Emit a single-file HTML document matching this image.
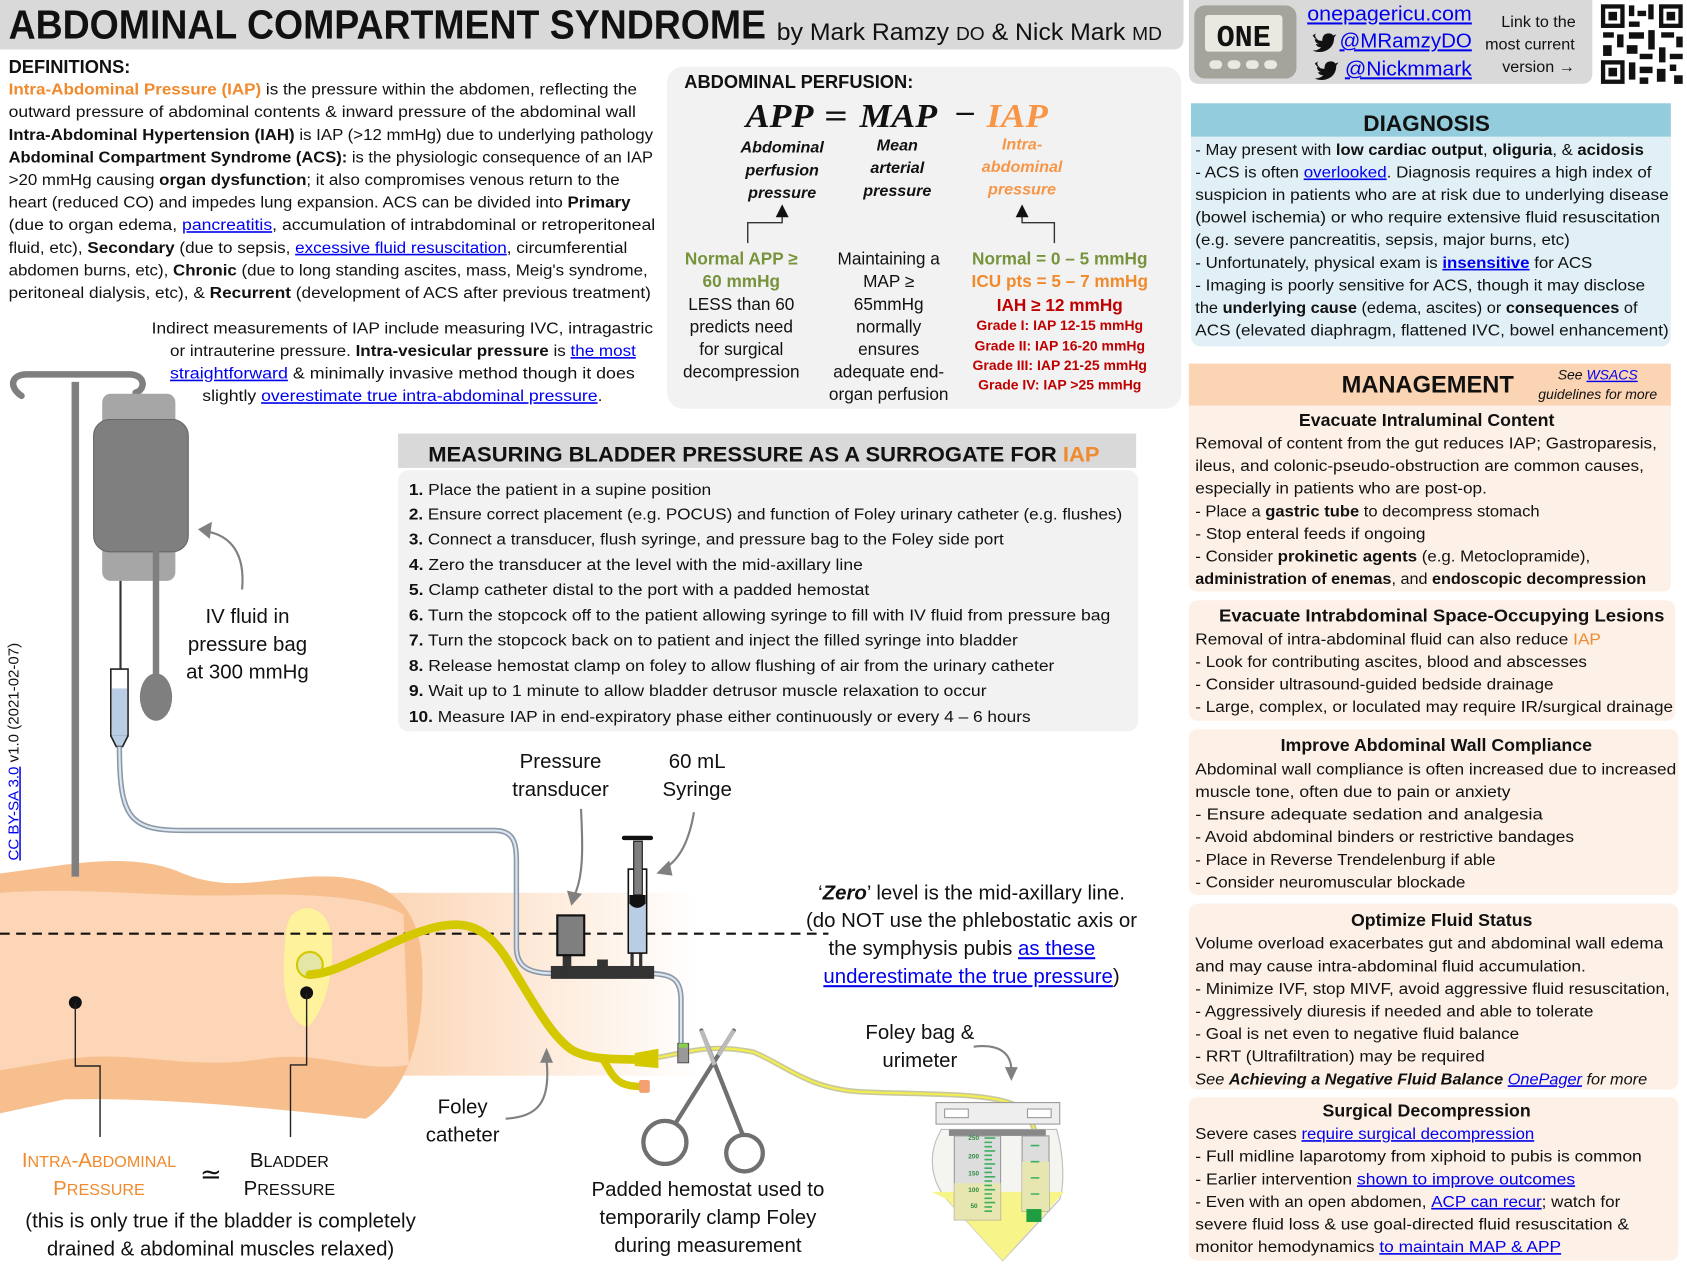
<!DOCTYPE html>
<html><head><meta charset="utf-8"><style>
html,body{margin:0;padding:0;background:#fff;}
svg{display:block}
text{font-family:"Liberation Sans",sans-serif;font-size:15px;fill:#111}
.b{font-weight:bold}
.i{font-style:italic}
.l{fill:#0000ee;text-decoration:underline}
.o{fill:#f08a2c}
.g{fill:#77933c}
.r{fill:#c00000}
.c{text-anchor:middle}
.lg{font-size:19px}
.sv{font-family:"Liberation Serif",serif;font-weight:bold;font-style:italic;font-size:31px}
</style></head><body>
<svg width="1687" height="1265" viewBox="0 0 1568 1176" preserveAspectRatio="none" xmlns="http://www.w3.org/2000/svg">
<!-- header -->
<path d="M0,0 H1100 V36 Q1100,46 1090,46 H0 Z" fill="#d9d9d9"/>
<text x="8" y="36" class="b" style="font-size:38px" textLength="704" lengthAdjust="spacingAndGlyphs">ABDOMINAL COMPARTMENT SYNDROME</text>
<text x="722" y="37" style="font-size:22px" textLength="358" lengthAdjust="spacingAndGlyphs">by Mark Ramzy <tspan style="font-size:17px">DO</tspan> &amp; Nick Mark <tspan style="font-size:17px">MD</tspan></text>
<path d="M1105,0 H1480 V68 Q1480,78 1470,78 H1115 Q1105,78 1105,68 Z" fill="#d9d9d9"/>
<rect x="1110" y="5" width="95" height="68" rx="10" fill="#a5a49c"/>
<rect x="1120" y="14" width="72" height="34" rx="3" fill="#e9e9e2"/>
<text x="1156" y="43" class="c" style="font-family:'Liberation Mono',monospace;font-size:28px;font-weight:bold">ONE</text>
<rect x="1124" y="56" width="12" height="8" rx="4" fill="#e9e9e2"/><rect x="1141" y="56" width="12" height="8" rx="4" fill="#e9e9e2"/><rect x="1158" y="56" width="12" height="8" rx="4" fill="#e9e9e2"/><rect x="1175" y="56" width="12" height="8" rx="4" fill="#e9e9e2"/>
<text x="1215" y="19" class="l" style="font-size:19px" textLength="153" lengthAdjust="spacingAndGlyphs">onepagericu.com</text>
<path d="M1220,33 q3,5 9,5 q0,-7 6,-7 q3,0 4,2 l3,-1 l-2,3 q0,10 -10,13 q-6,1 -10,-1 q5,0 8,-3 q-4,0 -5,-3 q2,0 3,0 q-4,-1 -4,-5 q1,1 3,1 q-4,-3 -2,-6 z" fill="#111"/>
<text x="1245" y="44" class="l" style="font-size:19px" textLength="123" lengthAdjust="spacingAndGlyphs">@MRamzyDO</text>
<path d="M1222,59 q3,5 9,5 q0,-7 6,-7 q3,0 4,2 l3,-1 l-2,3 q0,10 -10,13 q-6,1 -10,-1 q5,0 8,-3 q-4,0 -5,-3 q2,0 3,0 q-4,-1 -4,-5 q1,1 3,1 q-4,-3 -2,-6 z" fill="#111"/>
<text x="1250" y="70" class="l" style="font-size:19px" textLength="118" lengthAdjust="spacingAndGlyphs">@Nickmmark</text>
<text x="1430" y="25" class="c">Link to the</text>
<text x="1422" y="46" class="c">most current</text>
<text x="1430" y="67" class="c">version →</text>
<!-- QR -->
<g fill="#111">
<rect x="1487" y="3" width="78" height="76" fill="#fff"/>
<rect x="1488" y="4" width="22" height="22"/><rect x="1492" y="8" width="14" height="14" fill="#fff"/><rect x="1495" y="11" width="8" height="8"/>
<rect x="1542" y="4" width="22" height="22"/><rect x="1546" y="8" width="14" height="14" fill="#fff"/><rect x="1549" y="11" width="8" height="8"/>
<rect x="1488" y="56" width="22" height="22"/><rect x="1492" y="60" width="14" height="14" fill="#fff"/><rect x="1495" y="63" width="8" height="8"/>
<rect x="1514" y="5" width="5" height="10"/><rect x="1522" y="10" width="8" height="5"/><rect x="1532" y="4" width="5" height="14"/><rect x="1514" y="20" width="10" height="5"/>
<rect x="1490" y="30" width="10" height="5"/><rect x="1503" y="32" width="6" height="12"/><rect x="1514" y="30" width="14" height="6"/><rect x="1532" y="28" width="6" height="18"/><rect x="1544" y="30" width="12" height="5"/><rect x="1558" y="34" width="6" height="10"/>
<rect x="1490" y="42" width="8" height="10"/><rect x="1512" y="42" width="10" height="8"/><rect x="1524" y="50" width="12" height="5"/><rect x="1542" y="44" width="6" height="14"/><rect x="1552" y="50" width="12" height="5"/>
<rect x="1514" y="58" width="6" height="16"/><rect x="1524" y="62" width="12" height="6"/><rect x="1540" y="64" width="8" height="12"/><rect x="1552" y="60" width="6" height="6"/><rect x="1556" y="70" width="8" height="8"/><rect x="1524" y="72" width="8" height="6"/>
</g>
<!-- definitions -->
<text x="8" y="68" class="b" style="font-size:17px">DEFINITIONS:</text>
<text x="8" y="88" textLength="584" lengthAdjust="spacingAndGlyphs"><tspan class="b o">Intra-Abdominal Pressure (IAP)</tspan> is the pressure within the abdomen, reflecting the</text>
<text x="8" y="109" textLength="583" lengthAdjust="spacingAndGlyphs">outward pressure of abdominal contents &amp; inward pressure of the abdominal wall</text>
<text x="8" y="130" textLength="599" lengthAdjust="spacingAndGlyphs"><tspan class="b">Intra-Abdominal Hypertension (IAH)</tspan> is IAP (&gt;12 mmHg) due to underlying pathology</text>
<text x="8" y="151" textLength="599" lengthAdjust="spacingAndGlyphs"><tspan class="b">Abdominal Compartment Syndrome (ACS):</tspan> is the physiologic consequence of an IAP</text>
<text x="8" y="172" textLength="568" lengthAdjust="spacingAndGlyphs">&gt;20 mmHg causing <tspan class="b">organ dysfunction</tspan>; it also compromises venous return to the</text>
<text x="8" y="193" textLength="578" lengthAdjust="spacingAndGlyphs">heart (reduced CO) and impedes lung expansion. ACS can be divided into <tspan class="b">Primary</tspan></text>
<text x="8" y="214" textLength="601" lengthAdjust="spacingAndGlyphs">(due to organ edema, <tspan class="l">pancreatitis</tspan>, accumulation of intrabdominal or retroperitoneal</text>
<text x="8" y="235" textLength="575" lengthAdjust="spacingAndGlyphs">fluid, etc), <tspan class="b">Secondary</tspan> (due to sepsis, <tspan class="l">excessive fluid resuscitation</tspan>, circumferential</text>
<text x="8" y="256" textLength="594" lengthAdjust="spacingAndGlyphs">abdomen burns, etc), <tspan class="b">Chronic</tspan> (due to long standing ascites, mass, Meig's syndrome,</text>
<text x="8" y="277" textLength="597" lengthAdjust="spacingAndGlyphs">peritoneal dialysis, etc), &amp; <tspan class="b">Recurrent</tspan> (development of ACS after previous treatment)</text>
<text x="141" y="310" textLength="466" lengthAdjust="spacingAndGlyphs">Indirect measurements of IAP include measuring IVC, intragastric</text>
<text x="158" y="331" textLength="433" lengthAdjust="spacingAndGlyphs">or intrauterine pressure. <tspan class="b">Intra-vesicular pressure</tspan> is <tspan class="l">the most</tspan></text>
<text x="158" y="352" textLength="432" lengthAdjust="spacingAndGlyphs"><tspan class="l">straightforward</tspan> &amp; minimally invasive method though it does</text>
<text x="188" y="373" textLength="372" lengthAdjust="spacingAndGlyphs">slightly <tspan class="l">overestimate true intra-abdominal pressure</tspan>.</text>
<!-- perfusion -->
<rect x="620" y="62" width="478" height="318" rx="15" fill="#f2f2f2"/>
<text x="636" y="82" class="b" style="font-size:17px">ABDOMINAL PERFUSION:</text>
<text x="693" y="118" class="sv" textLength="63" lengthAdjust="spacingAndGlyphs">APP</text>
<text x="766" y="118" class="sv" style="font-style:normal" textLength="22" lengthAdjust="spacingAndGlyphs">=</text>
<text x="799" y="118" class="sv" textLength="72" lengthAdjust="spacingAndGlyphs">MAP</text>
<text x="887" y="116" class="sv" style="font-style:normal" textLength="20" lengthAdjust="spacingAndGlyphs">−</text>
<text x="917" y="118" class="sv" style="fill:#f79646" textLength="57" lengthAdjust="spacingAndGlyphs">IAP</text>
<text x="727" y="142" class="c b i">Abdominal</text><text x="727" y="163" class="c b i">perfusion</text><text x="727" y="184" class="c b i">pressure</text>
<text x="834" y="140" class="c b i">Mean</text><text x="834" y="161" class="c b i">arterial</text><text x="834" y="182" class="c b i">pressure</text>
<text x="950" y="139" class="c b i" style="fill:#f79646">Intra-</text><text x="950" y="160" class="c b i" style="fill:#f79646">abdominal</text><text x="950" y="181" class="c b i" style="fill:#f79646">pressure</text>
<path d="M695,226 V207 H727 V200" fill="none" stroke="#333" stroke-width="1.3"/><path d="M721,202 L727,190 L733,202 Z" fill="#111"/>
<path d="M980,226 V207 H950 V200" fill="none" stroke="#333" stroke-width="1.3"/><path d="M944,202 L950,190 L956,202 Z" fill="#111"/>
<text x="689" y="246" class="c g b" style="font-size:16px">Normal APP ≥</text>
<text x="689" y="267" class="c g b" style="font-size:16px">60 mmHg</text>
<text x="689" y="288" class="c" style="font-size:16px">LESS than 60</text>
<text x="689" y="309" class="c" style="font-size:16px">predicts need</text>
<text x="689" y="330" class="c" style="font-size:16px">for surgical</text>
<text x="689" y="351" class="c" style="font-size:16px">decompression</text>
<text x="826" y="246" class="c" style="font-size:16px">Maintaining a</text>
<text x="826" y="267" class="c" style="font-size:16px">MAP ≥</text>
<text x="826" y="288" class="c" style="font-size:16px">65mmHg</text>
<text x="826" y="309" class="c" style="font-size:16px">normally</text>
<text x="826" y="330" class="c" style="font-size:16px">ensures</text>
<text x="826" y="351" class="c" style="font-size:16px">adequate end-</text>
<text x="826" y="372" class="c" style="font-size:16px">organ perfusion</text>
<text x="985" y="246" class="c g b" style="font-size:16px">Normal = 0 – 5 mmHg</text>
<text x="985" y="267" class="c b" style="font-size:16px;fill:#f08a2c">ICU pts = 5 – 7 mmHg</text>
<text x="985" y="289" class="c b r" style="font-size:16px">IAH ≥ 12 mmHg</text>
<text x="985" y="307" class="c b r" style="font-size:13px">Grade I: IAP 12-15 mmHg</text>
<text x="985" y="326" class="c b r" style="font-size:13px">Grade II: IAP 16-20 mmHg</text>
<text x="985" y="344" class="c b r" style="font-size:13px">Grade III: IAP 21-25 mmHg</text>
<text x="985" y="362" class="c b r" style="font-size:13px">Grade IV: IAP &gt;25 mmHg</text>
<!-- diagnosis -->
<path d="M1107,126 H1553 V312 Q1553,322 1543,322 H1117 Q1107,322 1107,312 Z" fill="#e0f0f6"/>
<rect x="1107" y="96" width="446" height="31" fill="#93cddd"/>
<text x="1326" y="122" class="c b" style="font-size:21px">DIAGNOSIS</text>
<text x="1111" y="144" textLength="417" lengthAdjust="spacingAndGlyphs">- May present with <tspan class="b">low cardiac output</tspan>, <tspan class="b">oliguria</tspan>, &amp; <tspan class="b">acidosis</tspan></text>
<text x="1111" y="165" textLength="424" lengthAdjust="spacingAndGlyphs">- ACS is often <tspan class="l">overlooked</tspan>. Diagnosis requires a high index of</text>
<text x="1111" y="186" textLength="440" lengthAdjust="spacingAndGlyphs">suspicion in patients who are at risk due to underlying disease</text>
<text x="1111" y="207" textLength="432" lengthAdjust="spacingAndGlyphs">(bowel ischemia) or who require extensive fluid resuscitation</text>
<text x="1111" y="228" textLength="348" lengthAdjust="spacingAndGlyphs">(e.g. severe pancreatitis, sepsis, major burns, etc)</text>
<text x="1111" y="249" textLength="369" lengthAdjust="spacingAndGlyphs">- Unfortunately, physical exam is <tspan class="l b">insensitive</tspan> for ACS</text>
<text x="1111" y="270" textLength="418" lengthAdjust="spacingAndGlyphs">- Imaging is poorly sensitive for ACS, though it may disclose</text>
<text x="1111" y="291" textLength="411" lengthAdjust="spacingAndGlyphs">the <tspan class="b">underlying cause</tspan> (edema, ascites) or <tspan class="b">consequences</tspan> of</text>
<text x="1111" y="312" textLength="440" lengthAdjust="spacingAndGlyphs">ACS (elevated diaphragm, flattened IVC, bowel enhancement)</text>
<!-- management -->
<rect x="1105" y="338" width="448" height="39" fill="#fbd4b4"/>
<text x="1327" y="365" class="c b" style="font-size:22px">MANAGEMENT</text>
<text x="1485" y="353" class="c i" style="font-size:13px">See <tspan class="l">WSACS</tspan></text>
<text x="1485" y="371" class="c i" style="font-size:13px">guidelines for more</text>
<g fill="#fdf0e7">
<path d="M1105,377 H1553 V542 Q1553,550 1545,550 H1113 Q1105,550 1105,542 Z"/>
<rect x="1105" y="558" width="452" height="112" rx="8"/>
<rect x="1105" y="678" width="455" height="154" rx="8"/>
<rect x="1105" y="840" width="455" height="173" rx="8"/>
<rect x="1105" y="1020" width="455" height="152" rx="8"/>
</g>
<text x="1326" y="396" class="c b" style="font-size:16.5px">Evacuate Intraluminal Content</text>
<text x="1111" y="417" textLength="429" lengthAdjust="spacingAndGlyphs">Removal of content from the gut reduces IAP; Gastroparesis,</text>
<text x="1111" y="438" textLength="417" lengthAdjust="spacingAndGlyphs">ileus, and colonic-pseudo-obstruction are common causes,</text>
<text x="1111" y="459" textLength="271" lengthAdjust="spacingAndGlyphs">especially in patients who are post-op.</text>
<text x="1111" y="480" textLength="320" lengthAdjust="spacingAndGlyphs">- Place a <tspan class="b">gastric tube</tspan> to decompress stomach</text>
<text x="1111" y="501" textLength="214" lengthAdjust="spacingAndGlyphs">- Stop enteral feeds if ongoing</text>
<text x="1111" y="522" textLength="367" lengthAdjust="spacingAndGlyphs">- Consider <tspan class="b">prokinetic agents</tspan> (e.g. Metoclopramide),</text>
<text x="1111" y="543" textLength="419" lengthAdjust="spacingAndGlyphs"><tspan class="b">administration of enemas</tspan>, and <tspan class="b">endoscopic decompression</tspan></text>
<text x="1340" y="578" class="c b" style="font-size:16.5px" textLength="414" lengthAdjust="spacingAndGlyphs">Evacuate Intrabdominal Space-Occupying Lesions</text>
<text x="1111" y="599" textLength="377" lengthAdjust="spacingAndGlyphs">Removal of intra-abdominal fluid can also reduce <tspan class="o">IAP</tspan></text>
<text x="1111" y="620" textLength="364" lengthAdjust="spacingAndGlyphs">- Look for contributing ascites, blood and abscesses</text>
<text x="1111" y="641" textLength="333" lengthAdjust="spacingAndGlyphs">- Consider ultrasound-guided bedside drainage</text>
<text x="1111" y="662" textLength="444" lengthAdjust="spacingAndGlyphs">- Large, complex, or loculated may require IR/surgical drainage</text>
<text x="1335" y="698" class="c b" style="font-size:16.5px">Improve Abdominal Wall Compliance</text>
<text x="1111" y="720" textLength="447" lengthAdjust="spacingAndGlyphs">Abdominal wall compliance is often increased due to increased</text>
<text x="1111" y="741" textLength="293" lengthAdjust="spacingAndGlyphs">muscle tone, often due to pain or anxiety</text>
<text x="1111" y="762" textLength="323" lengthAdjust="spacingAndGlyphs">- Ensure adequate sedation and analgesia</text>
<text x="1111" y="783" textLength="352" lengthAdjust="spacingAndGlyphs">- Avoid abdominal binders or restrictive bandages</text>
<text x="1111" y="804" textLength="279" lengthAdjust="spacingAndGlyphs">- Place in Reverse Trendelenburg if able</text>
<text x="1111" y="825" textLength="251" lengthAdjust="spacingAndGlyphs">- Consider neuromuscular blockade</text>
<text x="1340" y="861" class="c b" style="font-size:16.5px">Optimize Fluid Status</text>
<text x="1111" y="882" textLength="435" lengthAdjust="spacingAndGlyphs">Volume overload exacerbates gut and abdominal wall edema</text>
<text x="1111" y="903" textLength="363" lengthAdjust="spacingAndGlyphs">and may cause intra-abdominal fluid accumulation.</text>
<text x="1111" y="924" textLength="441" lengthAdjust="spacingAndGlyphs">- Minimize IVF, stop MIVF, avoid aggressive fluid resuscitation,</text>
<text x="1111" y="945" textLength="370" lengthAdjust="spacingAndGlyphs">- Aggressively diuresis if needed and able to tolerate</text>
<text x="1111" y="966" textLength="301" lengthAdjust="spacingAndGlyphs">- Goal is net even to negative fluid balance</text>
<text x="1111" y="987" textLength="269" lengthAdjust="spacingAndGlyphs">- RRT (Ultrafiltration) may be required</text>
<text x="1111" y="1008" class="i" textLength="420" lengthAdjust="spacingAndGlyphs">See <tspan class="b">Achieving a Negative Fluid Balance</tspan> <tspan class="l">OnePager</tspan> for more</text>
<text x="1326" y="1038" class="c b" style="font-size:16.5px">Surgical Decompression</text>
<text x="1111" y="1059" textLength="315" lengthAdjust="spacingAndGlyphs">Severe cases <tspan class="l">require surgical decompression</tspan></text>
<text x="1111" y="1080" textLength="415" lengthAdjust="spacingAndGlyphs">- Full midline laparotomy from xiphoid to pubis is common</text>
<text x="1111" y="1101" textLength="353" lengthAdjust="spacingAndGlyphs">- Earlier intervention <tspan class="l">shown to improve outcomes</tspan></text>
<text x="1111" y="1122" textLength="395" lengthAdjust="spacingAndGlyphs">- Even with an open abdomen, <tspan class="l">ACP can recur</tspan>; watch for</text>
<text x="1111" y="1143" textLength="403" lengthAdjust="spacingAndGlyphs">severe fluid loss &amp; use goal-directed fluid resuscitation &amp;</text>
<text x="1111" y="1164" textLength="340" lengthAdjust="spacingAndGlyphs">monitor hemodynamics <tspan class="l">to maintain MAP &amp; APP</tspan></text>
<!-- measuring -->
<rect x="370" y="437" width="688" height="243" rx="10" fill="#f2f2f2"/>
<rect x="370" y="403" width="686" height="32" fill="#d9d9d9"/>
<text x="398" y="429" class="b" style="font-size:20px" textLength="624" lengthAdjust="spacingAndGlyphs">MEASURING BLADDER PRESSURE AS A SURROGATE FOR <tspan class="o">IAP</tspan></text>
<text x="380" y="460" textLength="281" lengthAdjust="spacingAndGlyphs"><tspan class="b">1.</tspan> Place the patient in a supine position</text>
<text x="380" y="483" textLength="663" lengthAdjust="spacingAndGlyphs"><tspan class="b">2.</tspan> Ensure correct  placement (e.g. POCUS) and function of Foley urinary catheter (e.g. flushes)</text>
<text x="380" y="506" textLength="553" lengthAdjust="spacingAndGlyphs"><tspan class="b">3.</tspan> Connect a transducer, flush syringe, and pressure bag to the Foley side port</text>
<text x="380" y="530" textLength="422" lengthAdjust="spacingAndGlyphs"><tspan class="b">4.</tspan> Zero the transducer at the level with the mid-axillary line</text>
<text x="380" y="553" textLength="428" lengthAdjust="spacingAndGlyphs"><tspan class="b">5.</tspan> Clamp catheter distal to the port with a padded hemostat</text>
<text x="380" y="577" textLength="652" lengthAdjust="spacingAndGlyphs"><tspan class="b">6.</tspan> Turn the stopcock off to the patient allowing syringe to fill with IV fluid from pressure bag</text>
<text x="380" y="600" textLength="566" lengthAdjust="spacingAndGlyphs"><tspan class="b">7.</tspan> Turn the stopcock back on to patient and inject the filled syringe into bladder</text>
<text x="380" y="624" textLength="600" lengthAdjust="spacingAndGlyphs"><tspan class="b">8.</tspan> Release hemostat clamp on foley to allow flushing of air from the urinary catheter</text>
<text x="380" y="647" textLength="537" lengthAdjust="spacingAndGlyphs"><tspan class="b">9.</tspan> Wait up to 1 minute to allow bladder detrusor muscle relaxation to occur</text>
<text x="380" y="671" textLength="578" lengthAdjust="spacingAndGlyphs"><tspan class="b">10.</tspan> Measure IAP in end-expiratory phase either continuously or every 4 – 6 hours</text>
<!-- body -->
<defs><linearGradient id="fade" x1="0" x2="1" y1="0" y2="0"><stop offset="0" stop-color="#fcd6b6"/><stop offset="1" stop-color="#fcd6b6" stop-opacity="0"/></linearGradient></defs>
<rect x="360" y="830" width="290" height="170" fill="url(#fade)"/>
<path d="M0,812 C60,805 120,790 170,812 C220,832 260,812 310,815 C360,818 388,840 392,890 C396,950 385,1010 340,1040 C250,1030 150,1020 60,1022 L0,1035 Z" fill="#f8bf8e"/>
<path d="M0,830 C80,824 150,835 230,832 C300,830 350,836 375,850 L380,990 C330,998 300,975 240,985 C170,995 120,975 60,985 L0,995 Z" fill="#fcd6b6"/>
<path d="M272,850 C285,838 305,845 308,870 C312,905 300,945 285,955 C268,950 262,920 264,890 C265,870 266,856 272,850 Z" fill="#fff29c"/>
<circle cx="288" cy="897" r="12" fill="#e4e6a8" stroke="#d4c800" stroke-width="2"/>
<!-- dashed line -->
<line x1="0" y1="868" x2="770" y2="868" stroke="#111" stroke-width="2" stroke-dasharray="9,6"/>
<!-- leader lines -->
<circle cx="70" cy="932" r="6" fill="#111"/><circle cx="285" cy="923" r="6" fill="#111"/>
<path d="M70,932 V991 H93 V1057 M285,923 V990 H270 V1057" fill="none" stroke="#222" stroke-width="1.3"/>
<!-- IV pole -->
<path d="M70,355 V815" stroke="#7f7f7f" stroke-width="7"/>
<path d="M20,368 C8,360 10,348 25,348 H120 C135,348 136,362 126,365" fill="none" stroke="#7f7f7f" stroke-width="6" stroke-linecap="round"/>
<rect x="95" y="366" width="68" height="174" rx="8" fill="#a6a6a6"/>
<rect x="87" y="390" width="88" height="123" rx="15" fill="#7f7f7f" stroke="#666" stroke-width="1"/>
<path d="M145,512 V630" stroke="#7f7f7f" stroke-width="6"/>
<ellipse cx="145" cy="648" rx="15" ry="22" fill="#7f7f7f"/>
<path d="M112,540 V622" stroke="#333" stroke-width="2"/>
<rect x="103" y="622" width="16" height="62" fill="#fff" stroke="#222" stroke-width="1.5"/>
<rect x="104" y="640" width="14" height="44" fill="#b9cde4"/>
<path d="M103,684 L108,694 H114 L119,684" fill="#b9cde4" stroke="#222" stroke-width="1.5"/>
<!-- pressure tubing -->
<path d="M111,694 C111,760 120,772 170,772 H460 C478,772 480,785 480,800 V880 C480,898 490,905 515,905 M600,905 C625,905 633,910 633,930 V972" fill="none" stroke="#8a98a8" stroke-width="5"/>
<path d="M111,694 C111,760 120,772 170,772 H460 C478,772 480,785 480,800 V880 C480,898 490,905 515,905 M600,905 C625,905 633,910 633,930 V972" fill="none" stroke="#dde6ef" stroke-width="2"/>
<!-- IV arrow -->
<path d="M225,548 C228,515 215,498 192,494" fill="none" stroke="#808080" stroke-width="2"/><path d="M184,492 L197,485 L195,501 Z" fill="#808080"/>
<text x="230" y="579" class="c lg">IV fluid in</text>
<text x="230" y="605" class="c lg">pressure bag</text>
<text x="230" y="631" class="c lg">at 300 mmHg</text>
<!-- stopcock / transducer / syringe -->
<rect x="555" y="892" width="10" height="10" fill="#333"/>
<rect x="512" y="898" width="96" height="12" fill="#333"/>
<rect x="523" y="888" width="8" height="12" fill="#333"/>
<rect x="518" y="851" width="25" height="37" fill="#7f7f7f" stroke="#111" stroke-width="2"/>
<rect x="586" y="885" width="3" height="14" fill="#333"/><rect x="594" y="885" width="3" height="14" fill="#333"/>
<rect x="584" y="808" width="17" height="78" fill="#fff" stroke="#111" stroke-width="1.5"/>
<rect x="585" y="840" width="15" height="45" fill="#b9cde4"/>
<rect x="589" y="782" width="8" height="50" fill="#7f7f7f" stroke="#111" stroke-width="1"/>
<rect x="578" y="777" width="29" height="4" rx="2" fill="#111"/>
<path d="M585,832 H600 V840 Q592,848 585,840 Z" fill="#111"/>
<text x="521" y="714" class="c lg">Pressure</text><text x="521" y="740" class="c lg">transducer</text>
<text x="648" y="714" class="c lg">60 mL</text><text x="648" y="740" class="c lg">Syringe</text>
<path d="M540,752 C542,790 542,815 534,832" fill="none" stroke="#808080" stroke-width="2"/><path d="M527,828 L531,842 L541,831 Z" fill="#808080"/>
<path d="M645,755 C640,785 630,800 618,807" fill="none" stroke="#808080" stroke-width="2"/><path d="M610,812 L622,800 L625,814 Z" fill="#808080"/>
<!-- foley catheter -->
<path d="M288,906 C310,905 330,892 380,870 C430,850 450,860 470,890 C495,930 510,960 530,975 C545,985 570,985 600,985" fill="none" stroke="#d4c800" stroke-width="8" stroke-linecap="round"/>
<path d="M560,984 C570,1000 572,1010 595,1010" fill="none" stroke="#d4c800" stroke-width="7"/>
<rect x="594" y="1004" width="10" height="12" rx="2" fill="#f4a070"/>
<path d="M590,979 L612,975 L612,993 L590,991 Z" fill="#d4c800"/>
<path d="M612,983 C640,978 660,970 700,978 C730,990 750,1012 800,1015 C860,1018 920,1015 945,1028 C955,1035 960,1045 962,1052" fill="none" stroke="#c8c8a0" stroke-width="5"/>
<path d="M612,983 C640,978 660,970 700,978 C730,990 750,1012 800,1015 C860,1018 920,1015 945,1028 C955,1035 960,1045 962,1052" fill="none" stroke="#f3ee50" stroke-width="2"/>
<rect x="630" y="970" width="10" height="18" fill="#999" stroke="#555" stroke-width="1"/><rect x="631" y="970" width="8" height="4" fill="#8bd04c"/>
<!-- hemostat -->
<g stroke="#707070" stroke-width="4" fill="none" stroke-linecap="round">
<path d="M652,958 L690,1054"/><path d="M682,958 L628,1044"/>
<circle cx="618" cy="1062" r="20"/><circle cx="692" cy="1072" r="17"/>
</g>
<path d="M652,958 L664,990" stroke="#bbb" stroke-width="4"/><path d="M682,958 L668,981" stroke="#bbb" stroke-width="4"/>
<text x="658" y="1112" class="c lg">Padded hemostat used to</text>
<text x="658" y="1138" class="c lg">temporarily clamp Foley</text>
<text x="658" y="1164" class="c lg">during measurement</text>
<text x="430" y="1035" class="c lg">Foley</text><text x="430" y="1061" class="c lg">catheter</text>
<path d="M470,1040 C500,1038 512,1025 508,985" fill="none" stroke="#808080" stroke-width="2"/><path d="M502,988 L508,974 L514,988 Z" fill="#808080"/>
<text x="855" y="966" class="c lg">Foley bag &amp;</text><text x="855" y="992" class="c lg">urimeter</text>
<path d="M905,973 C930,970 940,980 940,995" fill="none" stroke="#808080" stroke-width="2"/><path d="M934,992 L940,1005 L946,992 Z" fill="#808080"/>
<!-- urimeter -->
<rect x="870" y="1025" width="115" height="20" fill="#eee" stroke="#999"/>
<rect x="878" y="1031" width="22" height="8" fill="#fff" stroke="#999"/><rect x="955" y="1031" width="22" height="8" fill="#fff" stroke="#999"/>
<path d="M875,1050 H982 C988,1070 990,1100 985,1115 L932,1172 L880,1115 C863,1095 863,1070 875,1050 Z" fill="#f4f4f0" stroke="#bbb"/>
<path d="M866,1108 H989 L932,1172 L880,1115 Z" fill="#f7f48a"/>
<rect x="882" y="1050" width="90" height="6" fill="#888"/>
<rect x="887" y="1056" width="43" height="78" fill="#ddd" stroke="#999"/>
<rect x="887" y="1100" width="43" height="34" fill="#e8e6b0"/>
<rect x="950" y="1056" width="25" height="70" fill="#ddd" stroke="#999"/>
<rect x="950" y="1080" width="25" height="46" fill="#e8e6b0"/>
<rect x="954" y="1124" width="14" height="12" fill="#1e9e40"/>
<g stroke="#3cb060" stroke-width="1.5">
<path d="M915,1058 H925 M915,1062 H922 M915,1066 H922 M915,1070 H925 M915,1074 H922 M915,1078 H922 M915,1082 H925 M915,1086 H922 M915,1090 H922 M915,1094 H925 M915,1098 H922 M915,1102 H922 M915,1106 H925 M915,1110 H922 M915,1114 H922 M915,1118 H925 M915,1122 H922 M915,1126 H922"/>
<path d="M958,1065 H966 M958,1080 H966 M958,1095 H966 M958,1110 H966"/>
</g>
<text x="900" y="1060" class="b" style="font-size:6px;fill:#2a8a40">250</text><text x="900" y="1077" class="b" style="font-size:6px;fill:#2a8a40">200</text><text x="900" y="1093" class="b" style="font-size:6px;fill:#2a8a40">150</text><text x="900" y="1108" class="b" style="font-size:6px;fill:#2a8a40">100</text><text x="902" y="1123" class="b" style="font-size:6px;fill:#2a8a40">50</text>
<!-- zero text -->
<text x="903" y="836" class="c lg">‘<tspan class="b i">Zero</tspan>’ level is the mid-axillary line.</text>
<text x="903" y="862" class="c lg">(do NOT use the phlebostatic axis or</text>
<text x="894" y="888" class="c lg">the symphysis pubis <tspan class="l">as these</tspan></text>
<text x="903" y="914" class="c lg"><tspan class="l">underestimate the true pressure</tspan>)</text>
<!-- bottom labels -->
<text x="92" y="1085" class="c o" style="font-size:19px">I<tspan style="font-size:15px">NTRA</tspan>-A<tspan style="font-size:15px">BDOMINAL</tspan></text>
<text x="92" y="1111" class="c o" style="font-size:19px">P<tspan style="font-size:15px">RESSURE</tspan></text>
<text x="196" y="1100" class="c" style="font-size:24px">≃</text>
<text x="269" y="1085" class="c" style="font-size:19px">B<tspan style="font-size:15px">LADDER</tspan></text>
<text x="269" y="1111" class="c" style="font-size:19px">P<tspan style="font-size:15px">RESSURE</tspan></text>
<text x="205" y="1141" class="c lg">(this is only true if the bladder is completely</text>
<text x="205" y="1167" class="c lg">drained &amp; abdominal muscles relaxed)</text>
<!-- license -->
<text transform="translate(17,800) rotate(-90)" style="font-size:14px"><tspan class="l">CC BY-SA 3.0</tspan>  v1.0 (2021-02-07)</text>
</svg>
</body></html>
